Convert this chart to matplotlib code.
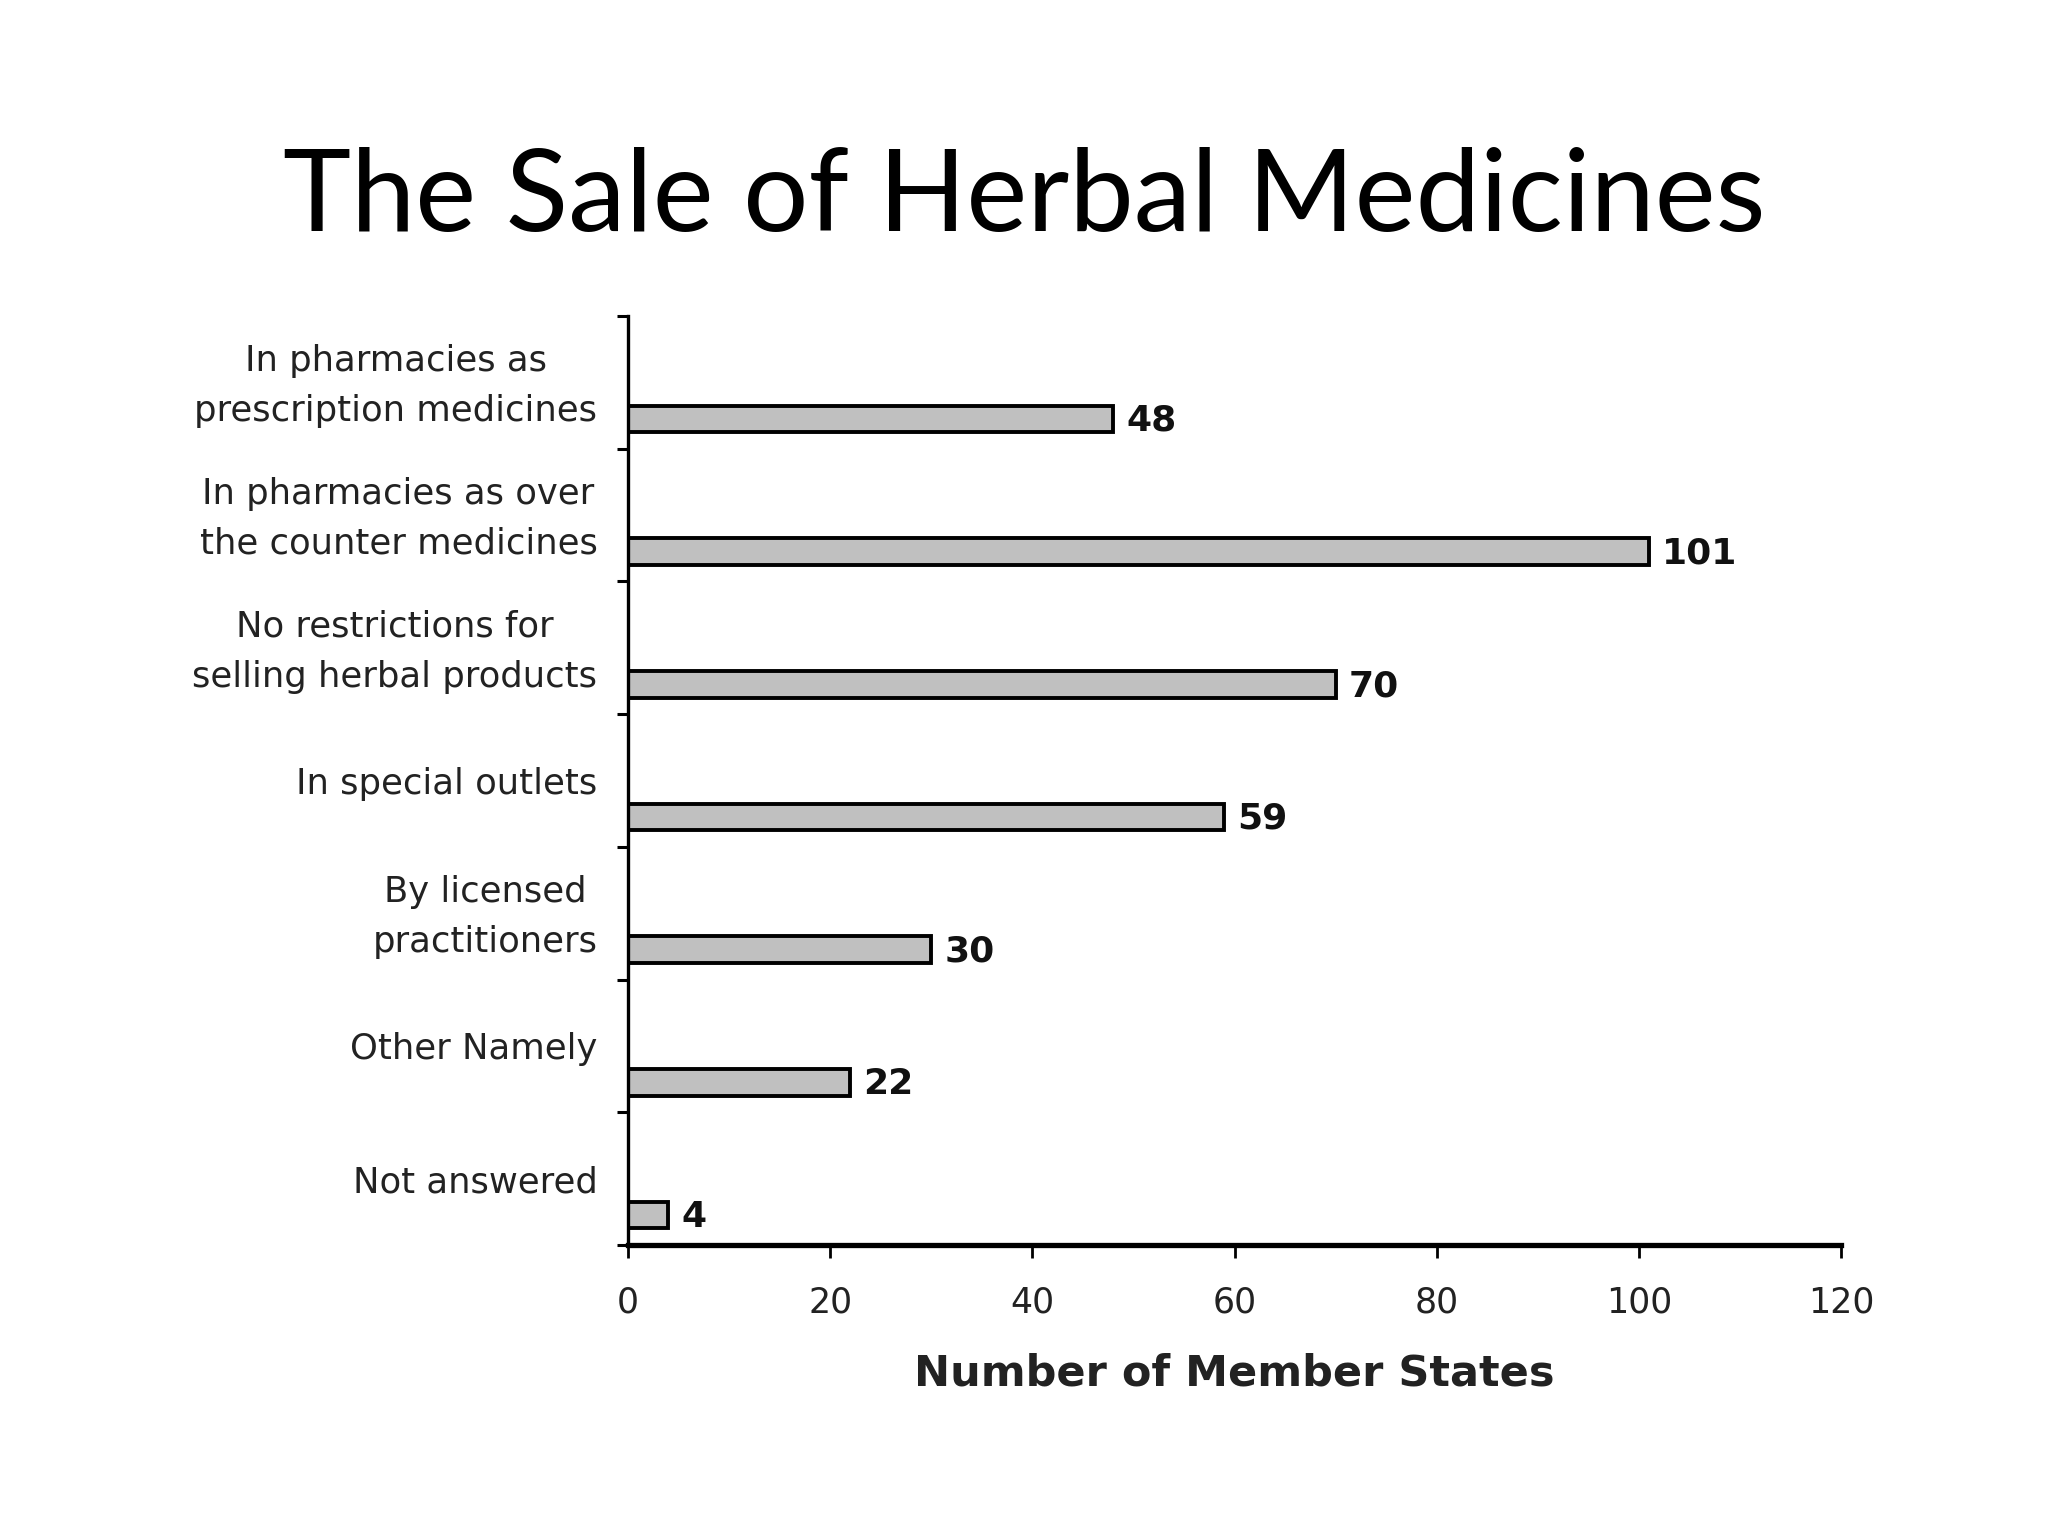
import numpy as np
import matplotlib
matplotlib.use("Agg")
from matplotlib import pyplot as plt

# data, top to bottom as in the picture
categories = [
    "In pharmacies as\nprescription medicines",
    "In pharmacies as over\nthe counter medicines",
    "No restrictions for\nselling herbal products",
    "In special outlets",
    "By licensed\npractitioners",
    "Other Namely",
    "Not answered",
]
counts = [48, 101, 70, 59, 30, 22, 4]
xticks = [0, 20, 40, 60, 80, 100, 120]

fig = plt.figure(figsize=(20.48, 15.36), dpi=100)
fig.patch.set_facecolor("white")

fig.text(0.5, 1 - 199 / 1536, "The Sale of Herbal Medicines",
         ha="center", va="center", fontsize=83, family=["Lato", "DejaVu Sans"])

ax = fig.add_axes([628 / 2048, 1 - 1245 / 1536, (1841 - 628) / 2048, (1245 - 316) / 1536])

n = len(categories)
pos = np.arange(n)
# bars sit in the lower part of each band
ax.barh(pos + 0.775, counts, height=0.2, color="#c0c0c0",
        edgecolor="black", linewidth=2.8)

for p, v in zip(pos, counts):
    ax.text(v + 1.3, p + 0.79, str(v), va="center", ha="left",
            fontsize=26, fontweight="bold", family="DejaVu Sans", color="#111111")

ax.set_xlim(0, 120)
ax.set_ylim(n, 0)

ax.set_xticks(xticks)
ax.set_xticklabels([str(t) for t in xticks], fontsize=25, color="#222222")
ax.tick_params(axis="x", direction="out", length=9, width=2, pad=20)

ax.set_yticks(np.arange(n + 1))
ax.set_yticklabels([])
# two-line labels sit a little higher in their band
label_pos = [p + (0.44 if "\n" in c else 0.5) for p, c in zip(pos, categories)]
ax.set_yticks(label_pos, minor=True)
ax.set_yticklabels(categories, minor=True, fontsize=25.5, multialignment="center",
                   color="#222222", linespacing=1.6)
ax.tick_params(axis="y", which="major", direction="out", length=8, width=2.2)
ax.tick_params(axis="y", which="minor", length=0, pad=22)

ax.spines["top"].set_visible(False)
ax.spines["right"].set_visible(False)
ax.spines["left"].set_linewidth(2.4)
ax.spines["bottom"].set_linewidth(3.8)

ax.set_xlabel("Number of Member States", fontsize=31, fontweight="bold",
              labelpad=24, color="#222222")

fig.savefig("out.png", dpi=100, facecolor="white")
